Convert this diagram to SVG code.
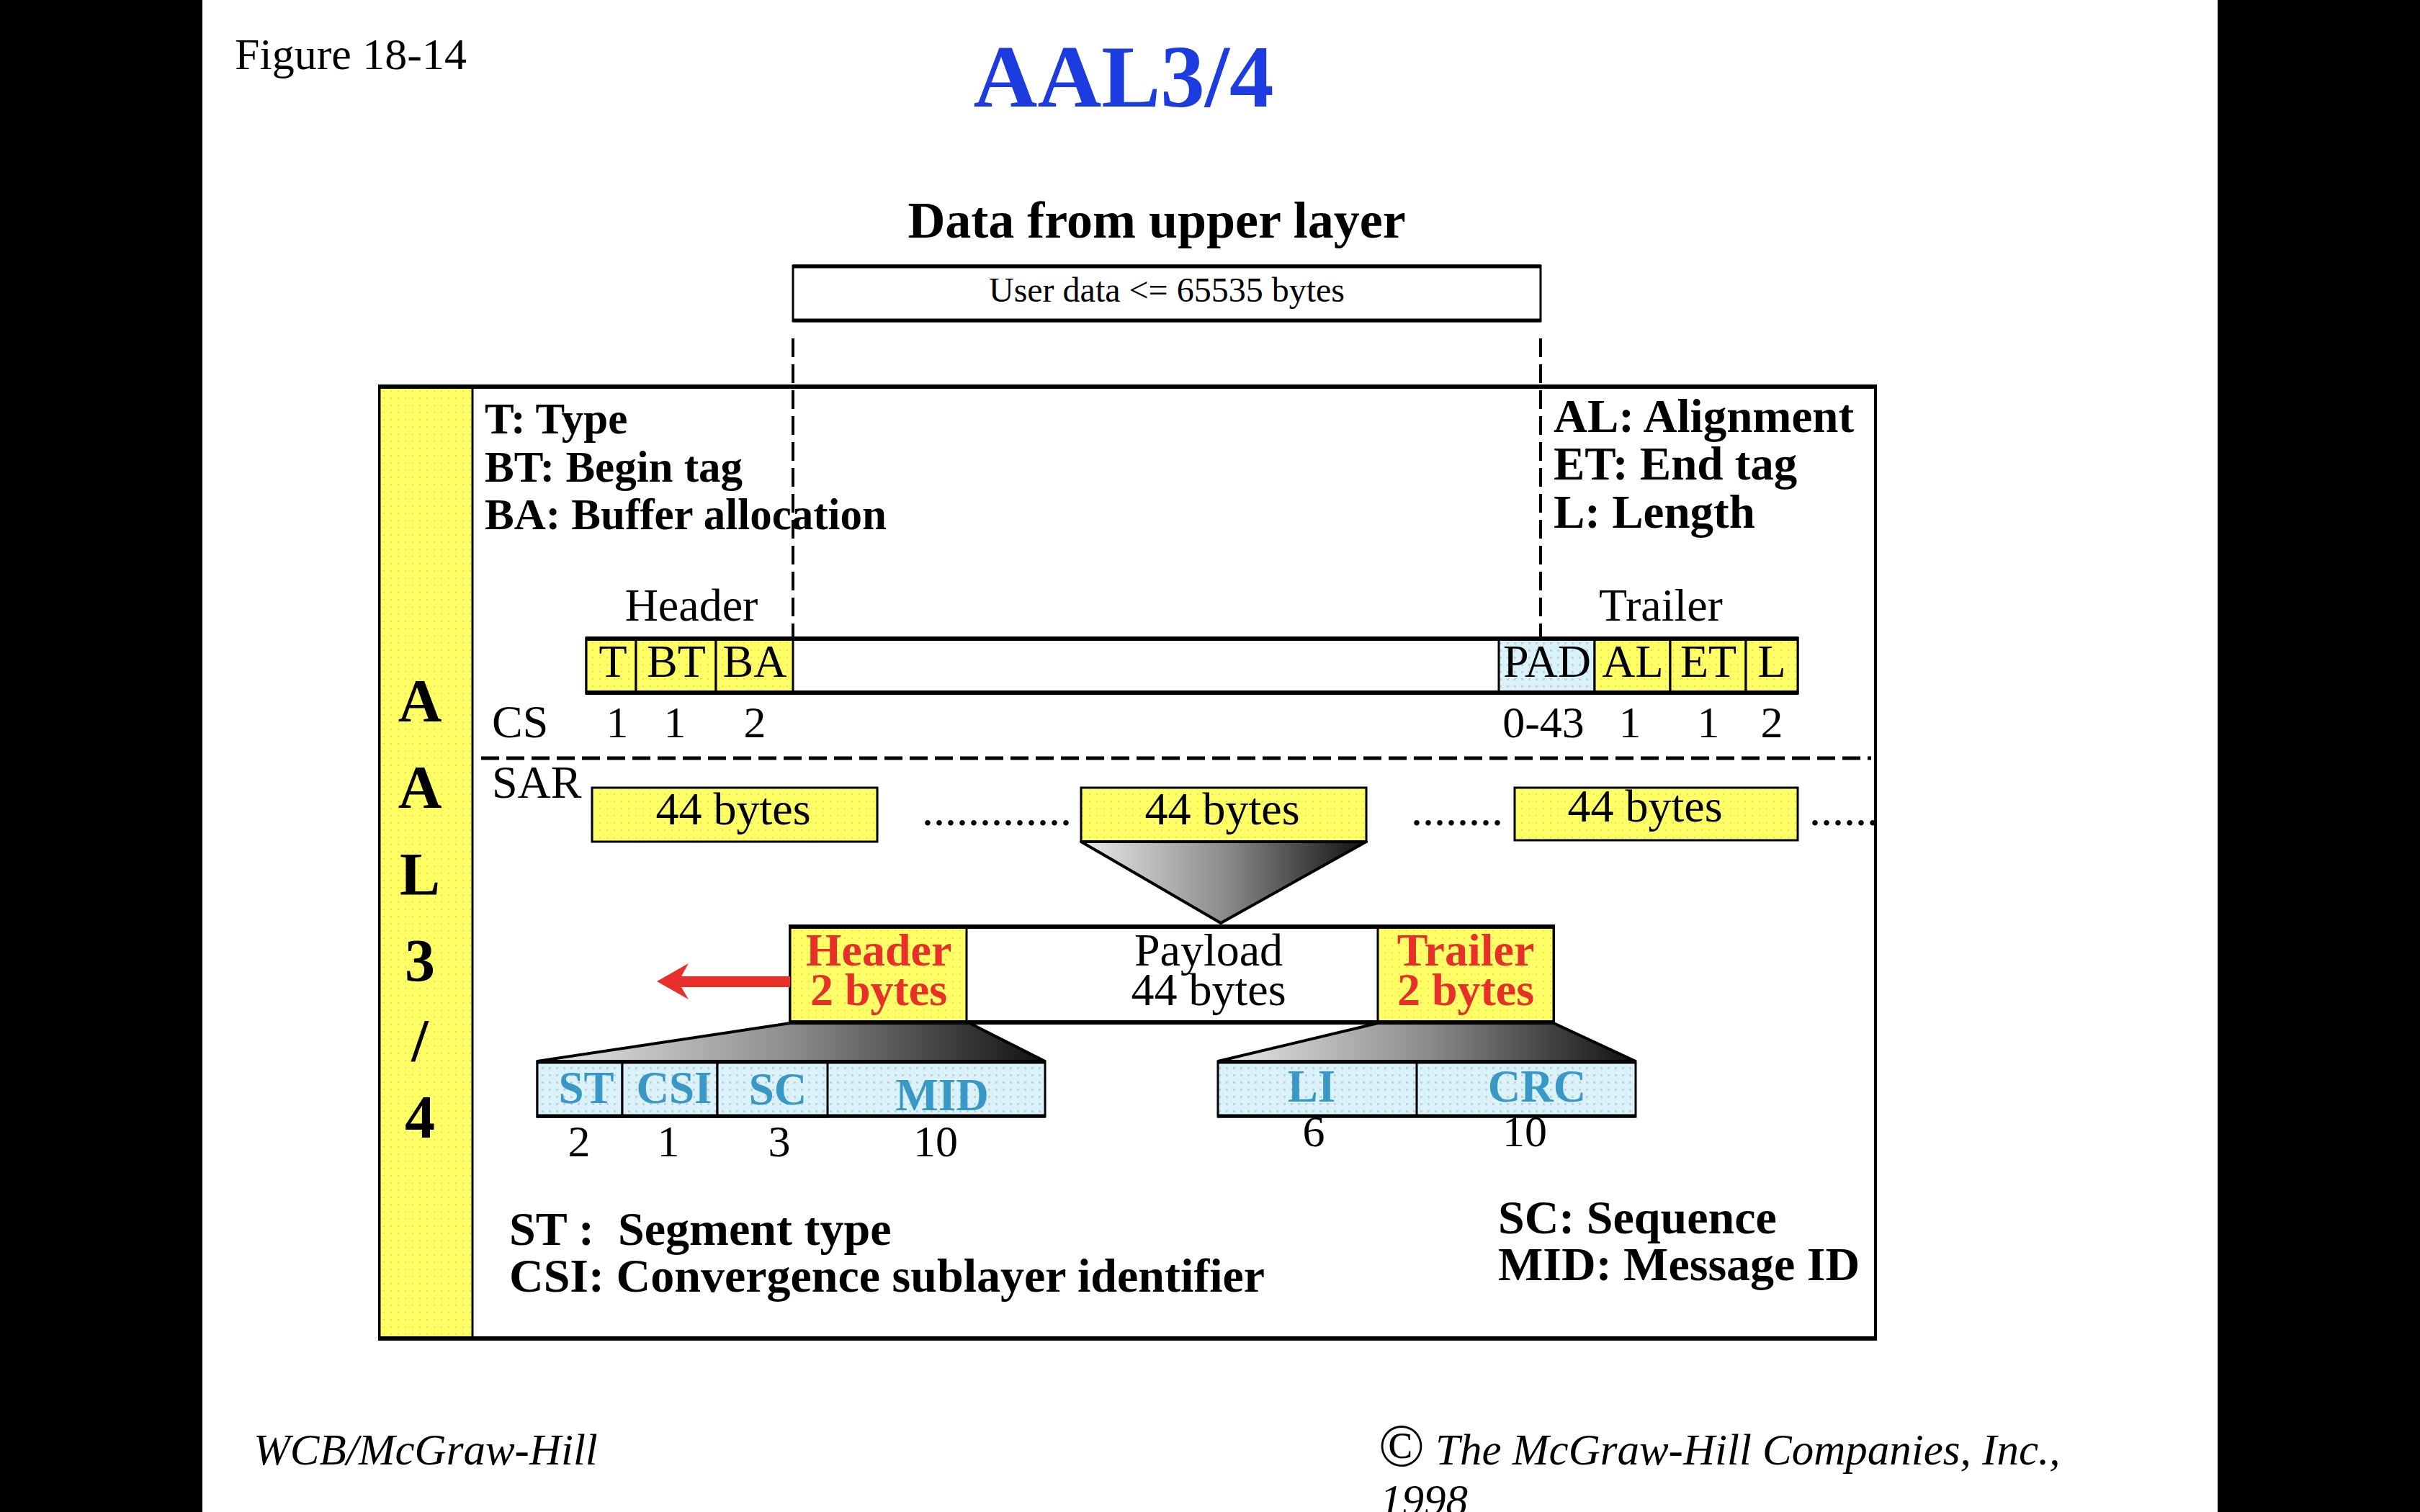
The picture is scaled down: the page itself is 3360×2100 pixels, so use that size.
<svg xmlns="http://www.w3.org/2000/svg" width="3360" height="2100" viewBox="0 0 3360 2100">
<defs>
<pattern id="ydots" width="10" height="10" patternUnits="userSpaceOnUse">
<rect width="10" height="10" fill="#ffff66"/>
<rect x="2" y="2" width="2" height="2" fill="#f4c860" opacity="0.7"/>
</pattern>
<pattern id="bdots" width="10" height="10" patternUnits="userSpaceOnUse">
<rect width="10" height="10" fill="#daf2fa"/>
<rect x="2" y="2" width="3" height="3" fill="#b8b8c8" opacity="0.6"/>
</pattern>
<linearGradient id="gr" x1="0" y1="0" x2="1" y2="0">
<stop offset="0" stop-color="#eaeaea"/>
<stop offset="0.5" stop-color="#8c8c8c"/>
<stop offset="1" stop-color="#101010"/>
</linearGradient>
<style>
.serif{font-family:"Liberation Serif","Times New Roman",serif;}
.reg{font-family:"Liberation Serif","Times New Roman",serif;font-size:64px;fill:#000;}
.bold{font-family:"Liberation Serif","Times New Roman",serif;font-weight:bold;fill:#000;}
.num{font-family:"Liberation Serif","Times New Roman",serif;font-size:62px;fill:#000;text-anchor:middle;}
.cell{font-family:"Liberation Serif","Times New Roman",serif;font-size:64px;fill:#000;text-anchor:middle;}
.fld{font-family:"Liberation Serif","Times New Roman",serif;font-weight:bold;font-size:63px;fill:#3a98c6;text-anchor:middle;}
.red{font-family:"Liberation Serif","Times New Roman",serif;font-weight:bold;font-size:64px;fill:#e8302a;text-anchor:middle;}
.ital{font-family:"Liberation Serif","Times New Roman",serif;font-style:italic;font-size:61px;fill:#000;}
.yel{fill:url(#ydots);stroke:#000;stroke-width:3;}
.blu{fill:url(#bdots);stroke:#000;stroke-width:3;}
.dash{stroke:#000;stroke-width:4;stroke-dasharray:26 10;fill:none;}
</style>
</defs>

<rect x="0" y="0" width="3360" height="2100" fill="#ffffff"/>
<rect x="0" y="0" width="281" height="2100" fill="#000"/>
<rect x="3079" y="0" width="281" height="2100" fill="#000"/>

<g id="title">
<text class="serif" x="326" y="96" font-size="62">Figure 18-14</text>
<text class="bold" x="1560" y="148" font-size="123" style="fill:#1c3ce0" text-anchor="middle">AAL3/4</text>
<text class="bold" x="1606" y="330" font-size="72" text-anchor="middle">Data from upper layer</text>
</g>

<g id="user-data">
<rect x="1101" y="369" width="1038" height="77" fill="#fff" stroke="#000" stroke-width="3"/>
<line x1="1101" y1="370" x2="2139" y2="370" stroke="#000" stroke-width="5"/>
<line x1="1101" y1="445" x2="2139" y2="445" stroke="#000" stroke-width="5"/>
<text class="serif" x="1620" y="419" font-size="48" text-anchor="middle">User data &lt;= 65535 bytes</text>
</g>

<g id="aal-box">
<rect x="527" y="536" width="2077" height="1324" fill="#fff" stroke="#000" stroke-width="4"/>
<rect x="527" y="536" width="129" height="1324" class="yel" stroke-width="4"/>
<line x1="527" y1="537" x2="2604" y2="537" stroke="#000" stroke-width="6"/>
<line x1="527" y1="1859" x2="2604" y2="1859" stroke="#000" stroke-width="6"/>
<g class="bold" font-size="84" text-anchor="middle">
<text x="583" y="1002">A</text>
<text x="583" y="1122">A</text>
<text x="583" y="1243">L</text>
<text x="583" y="1363">3</text>
<text x="583" y="1474">/</text>
<text x="583" y="1580">4</text>
</g>
</g>

<g id="cs-legend">
<text class="bold" x="673" y="602" font-size="61">T: Type</text>
<text class="bold" x="673" y="669" font-size="61">BT: Begin tag</text>
<text class="bold" x="673" y="735" font-size="61">BA: Buffer allocation</text>
<text class="bold" x="2157" y="600" font-size="65">AL: Alignment</text>
<text class="bold" x="2157" y="666" font-size="65">ET: End tag</text>
<text class="bold" x="2157" y="733" font-size="65">L: Length</text>
</g>

<g id="cs-pdu">
<text class="reg" x="960" y="862" text-anchor="middle">Header</text>
<text class="reg" x="2306" y="862" text-anchor="middle">Trailer</text>
<rect x="814" y="886" width="1682" height="77" fill="#fff" stroke="#000" stroke-width="3"/>
<rect x="814" y="886" width="69" height="77" class="yel"/>
<rect x="883" y="886" width="111" height="77" class="yel"/>
<rect x="994" y="886" width="107" height="77" class="yel"/>
<rect x="2081" y="886" width="133" height="77" class="blu"/>
<rect x="2214" y="886" width="105" height="77" class="yel"/>
<rect x="2319" y="886" width="105" height="77" class="yel"/>
<rect x="2424" y="886" width="72" height="77" class="yel"/>
<line x1="814" y1="887" x2="2496" y2="887" stroke="#000" stroke-width="6"/>
<line x1="814" y1="962" x2="2496" y2="962" stroke="#000" stroke-width="6"/>
<text class="cell" x="851" y="940">T</text>
<text class="cell" x="939" y="940">BT</text>
<text class="cell" x="1048" y="940">BA</text>
<text class="cell" x="2148" y="940">PAD</text>
<text class="cell" x="2267" y="940">AL</text>
<text class="cell" x="2372" y="940">ET</text>
<text class="cell" x="2460" y="940">L</text>
<text class="reg" x="683" y="1024" font-size="62">CS</text>
<text class="num" x="857" y="1024">1</text>
<text class="num" x="937" y="1024">1</text>
<text class="num" x="1048" y="1024">2</text>
<text class="num" x="2143" y="1024">0-43</text>
<text class="num" x="2263" y="1024">1</text>
<text class="num" x="2372" y="1024">1</text>
<text class="num" x="2460" y="1024">2</text>
</g>

<g id="sar-segments">
<text class="reg" x="683" y="1108" font-size="62">SAR</text>
<rect x="822" y="1094" width="396" height="75" class="yel" stroke-width="4"/>
<text class="cell" x="1018" y="1145">44 bytes</text>
<text class="reg" x="1280" y="1146">.............</text>
<rect x="1501" y="1094" width="396" height="75" class="yel" stroke-width="4"/>
<text class="cell" x="1697" y="1145">44 bytes</text>
<text class="reg" x="1959" y="1146">........</text>
<rect x="2103" y="1094" width="393" height="73" class="yel" stroke-width="4"/>
<text class="cell" x="2284" y="1141">44 bytes</text>
<text class="reg" x="2512" y="1146">......</text>
</g>

<g id="sar-pdu">
<rect x="1097" y="1286" width="1060" height="135" fill="#fff" stroke="#000" stroke-width="4"/>
<rect x="1097" y="1286" width="245" height="135" class="yel" stroke-width="4"/>
<rect x="1913" y="1286" width="244" height="135" class="yel" stroke-width="4"/>
<line x1="1097" y1="1287" x2="2157" y2="1287" stroke="#000" stroke-width="6"/>
<line x1="1097" y1="1420" x2="2157" y2="1420" stroke="#000" stroke-width="6"/>
<text class="red" x="1220" y="1341">Header</text>
<text class="red" x="1220" y="1396">2 bytes</text>
<text class="cell" x="1678" y="1341">Payload</text>
<text class="cell" x="1678" y="1396">44 bytes</text>
<text class="red" x="2035" y="1341">Trailer</text>
<text class="red" x="2035" y="1396">2 bytes</text>
</g>

<g id="header-fields">
<rect x="746" y="1474" width="705" height="77" class="blu"/>
<rect x="746" y="1474" width="118" height="77" class="blu"/>
<rect x="864" y="1474" width="132" height="77" class="blu"/>
<rect x="996" y="1474" width="153" height="77" class="blu"/>
<line x1="746" y1="1475" x2="1451" y2="1475" stroke="#000" stroke-width="5"/>
<line x1="746" y1="1550" x2="1451" y2="1550" stroke="#000" stroke-width="5"/>
<text class="fld" x="814" y="1532">ST</text>
<text class="fld" x="936" y="1532">CSI</text>
<text class="fld" x="1080" y="1534">SC</text>
<text class="fld" x="1308" y="1542">MID</text>
<text class="num" x="804" y="1606">2</text>
<text class="num" x="928" y="1606">1</text>
<text class="num" x="1082" y="1606">3</text>
<text class="num" x="1299" y="1606">10</text>
</g>

<g id="trailer-fields">
<rect x="1691" y="1474" width="580" height="77" class="blu"/>
<line x1="1967" y1="1474" x2="1967" y2="1551" stroke="#000" stroke-width="3"/>
<line x1="1691" y1="1475" x2="2271" y2="1475" stroke="#000" stroke-width="5"/>
<line x1="1691" y1="1550" x2="2271" y2="1550" stroke="#000" stroke-width="5"/>
<text class="fld" x="1821" y="1530">LI</text>
<text class="fld" x="2134" y="1530">CRC</text>
<text class="num" x="1824" y="1592">6</text>
<text class="num" x="2117" y="1592">10</text>
</g>

<g id="sar-legend">
<text class="bold" x="707" y="1729" font-size="66" xml:space="preserve">ST :  Segment type</text>
<text class="bold" x="707" y="1794" font-size="66">CSI: Convergence sublayer identifier</text>
<text class="bold" x="2080" y="1713" font-size="66">SC: Sequence</text>
<text class="bold" x="2080" y="1778" font-size="66">MID: Message ID</text>
</g>

<g id="connectors">
<line class="dash" x1="1101" y1="470" x2="1101" y2="886"/>
<line class="dash" x1="2139" y1="470" x2="2139" y2="886"/>
<line x1="668" y1="1053" x2="2598" y2="1053" stroke="#000" stroke-width="5" stroke-dasharray="25 10"/>
<polygon points="1501,1169 1897,1169 1695,1282" fill="url(#gr)" stroke="#000" stroke-width="4" stroke-linejoin="round"/>
<polygon points="1097,1421 1346,1421 1451,1474 746,1474" fill="url(#gr)" stroke="#000" stroke-width="4"/>
<polygon points="1913,1421 2157,1421 2271,1474 1691,1474" fill="url(#gr)" stroke="#000" stroke-width="4"/>
<polygon points="912,1363 956,1338 946,1356 1097,1356 1097,1371 946,1371 956,1388" fill="#e8302a"/>
</g>

<g id="footer">
<text class="ital" x="352" y="2034">WCB/McGraw-Hill</text>
<text class="serif" x="1914" y="2036" font-size="84">©</text>
<text class="ital" x="1993" y="2034">The McGraw-Hill Companies, Inc.,</text>
<text class="ital" x="1916" y="2104">1998</text>
</g>
</svg>
